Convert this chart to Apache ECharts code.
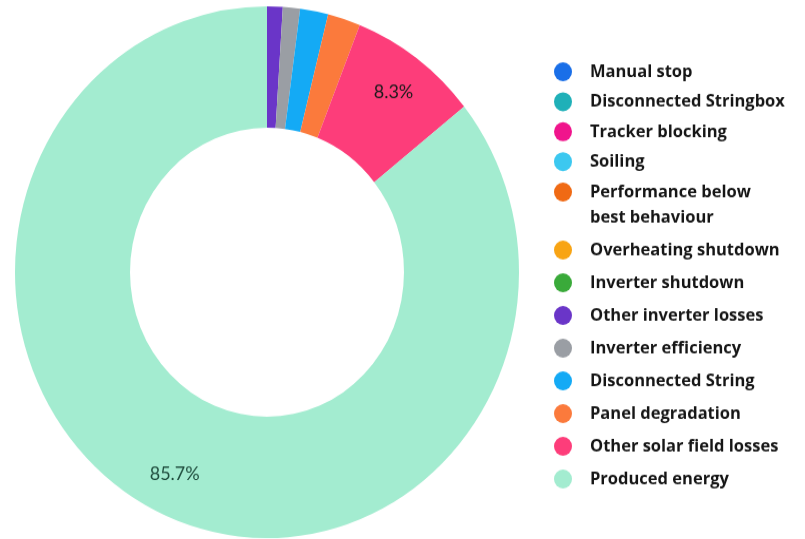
<!DOCTYPE html>
<html>
<head>
<meta charset="utf-8">
<script src="https://cdn.jsdelivr.net/npm/echarts@6/dist/echarts.min.js"></script>
<style>
  html, body { margin: 0; padding: 0; background: #ffffff; overflow: hidden; }
  #wrap { width: 805px; height: 539px; overflow: hidden; }
  /* the donut is drawn slightly taller than wide */
  #chart { width: 805px; height: 511px; transform: scaleY(1.055); transform-origin: 0 0; }
</style>
</head>
<body>
<div id="wrap"><div id="chart"></div></div>
<script>
// Loss categories and their share of the total energy (%)
const categories = [
  'Manual stop',
  'Disconnected Stringbox',
  'Tracker blocking',
  'Soiling',
  'Performance below best behaviour',
  'Overheating shutdown',
  'Inverter shutdown',
  'Other inverter losses',
  'Inverter efficiency',
  'Disconnected String',
  'Panel degradation',
  'Other solar field losses',
  'Produced energy'
];
const shares = [0, 0, 0, 0, 0, 0, 0, 1.0, 1.1, 1.8, 2.1, 8.3, 85.7];
const colors = [
  '#1a6fe8', '#1fb0b8', '#f0148c', '#3cc8f0', '#f06a14', '#f8a414',
  '#3aaa3a', '#6a35c8', '#9a9ea4', '#14aaf5', '#fb7a3c', '#fd3d7a', '#a3ecd0'
];
const labelColors = { 'Produced energy': '#1f4d3d' };

const CENTER = [267, 258];
const LABEL_PUSH = 15;

const chart = echarts.init(document.getElementById('chart'), null, { renderer: 'canvas' });

const legendText = {
  fontFamily: 'Open Sans',
  fontWeight: 'bold',
  fontSize: 16.5,
  color: '#161616',
  padding: [0, 0, 0, 13]
};

// the long entry wraps onto a second line; a blank first line keeps
// the marker level with "Performance below"
const wrapName = name => name === 'Performance below best behaviour'
  ? '\nPerformance below\nbest behaviour' : name;

chart.setOption({
  animation: false,
  backgroundColor: '#ffffff',
  legend: [
    {
      data: categories.slice(0, 4),
      orient: 'vertical',
      left: 549,
      top: 52,
      icon: 'circle',
      itemWidth: 18,
      itemHeight: 18,
      itemGap: 6.4,
      selectedMode: false,
      textStyle: Object.assign({}, legendText, { lineHeight: 22 })
    },
    {
      data: categories.slice(4),
      formatter: wrapName,
      orient: 'vertical',
      left: 549,
      top: 141,
      icon: 'circle',
      itemWidth: 18,
      itemHeight: 18,
      itemGap: 7,
      selectedMode: false,
      textStyle: Object.assign({}, legendText, { lineHeight: 24 })
    }
  ],
  series: [{
    type: 'pie',
    center: CENTER,
    radius: [137, 252],
    startAngle: 90,
    clockwise: true,
    avoidLabelOverlap: false,
    silent: true,
    itemStyle: { borderWidth: 0 },
    label: {
      show: true,
      position: 'inside',
      fontFamily: 'Lato',
      fontSize: 18,
      color: '#1a1a1a',
      formatter: p => p.percent >= 5 ? p.percent.toFixed(1) + '%' : ''
    },
    labelLine: { show: false },
    labelLayout: function (p) {
      const r = p.labelRect;
      const vx = r.x + r.width / 2 - CENTER[0];
      const vy = r.y + r.height / 2 - CENTER[1];
      const len = Math.hypot(vx, vy) || 1;
      return { dx: vx / len * LABEL_PUSH, dy: vy / len * LABEL_PUSH };
    },
    data: categories.map((name, i) => ({
      name: name,
      value: shares[i],
      itemStyle: { color: colors[i] },
      label: labelColors[name] ? { color: labelColors[name] } : undefined
    }))
  }]
});
</script>
</body>
</html>
